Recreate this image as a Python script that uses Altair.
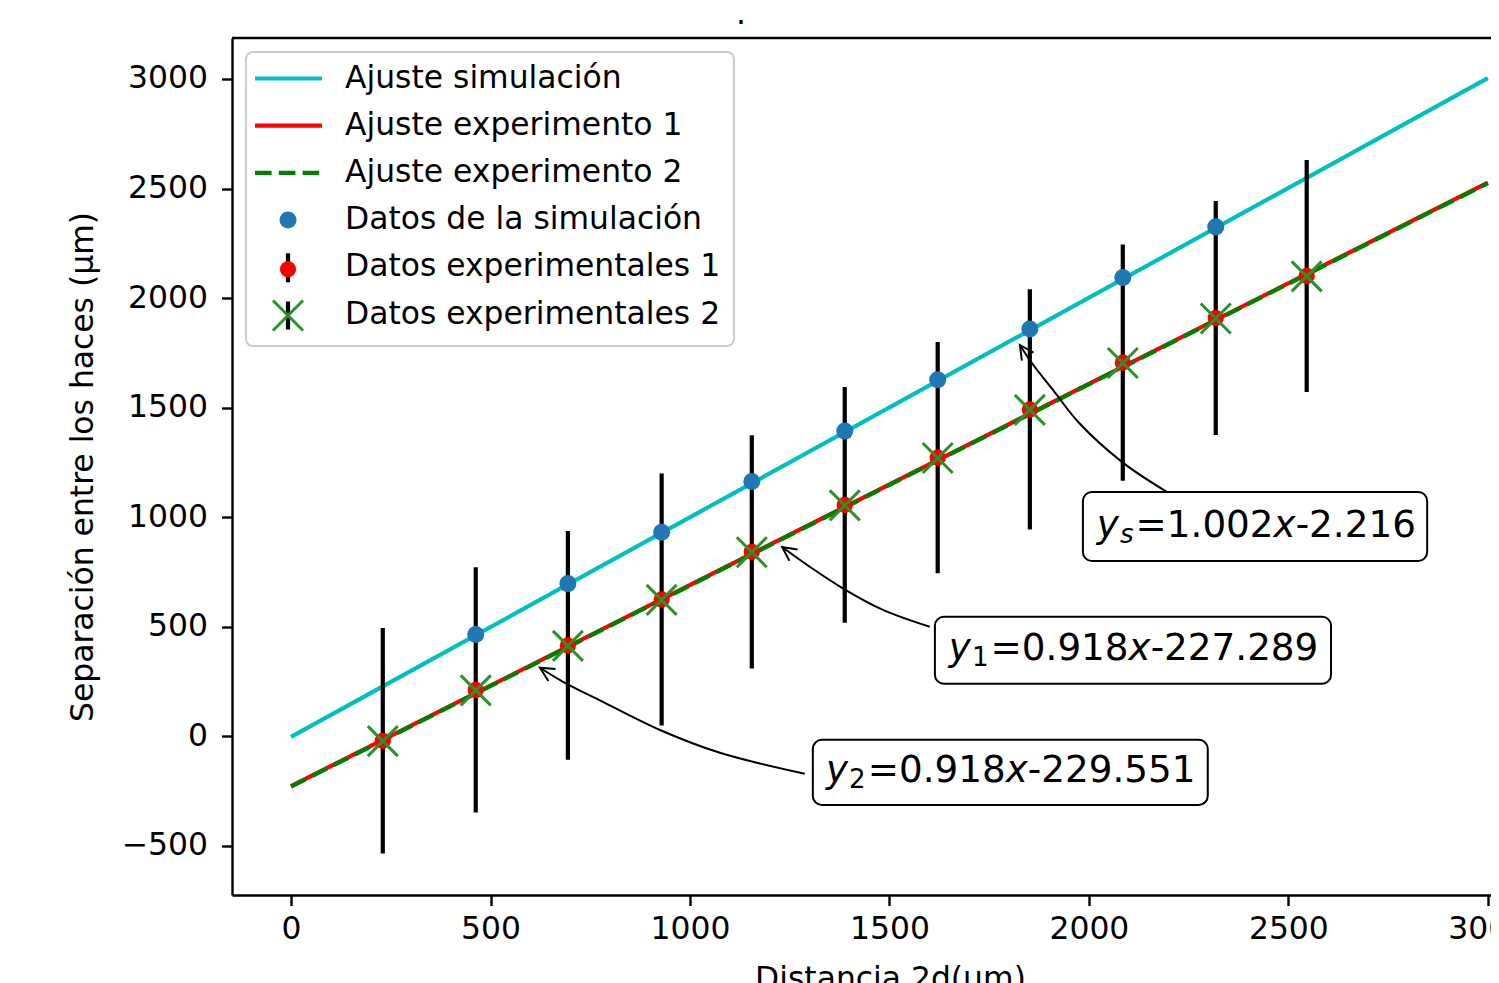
import altair as alt
import pandas as pd

# ---------------- values ----------------
x_exp = [230, 463, 694, 929, 1155, 1388, 1621, 1852, 2085, 2318, 2546]
y_exp1 = [-20, 212, 415, 625, 842, 1056, 1272, 1492, 1706, 1909, 2101]
y_exp2 = [-22, 210, 413, 623, 840, 1054, 1270, 1490, 1704, 1907, 2099]
err_exp = [515, 560, 522, 575, 532, 538, 528, 548, 539, 534, 529]

x_sim = [463, 694, 929, 1155, 1388, 1621, 1852, 2085, 2318]
y_sim = [465, 697, 931, 1163, 1393, 1627, 1859, 2094, 2325]

fit_x = [0, 3000]
fit_sim = [-2.2, 3003.8]
fit_exp1 = [-227.3, 2526.7]
fit_exp2 = [-229.6, 2524.5]

x_ticks = [0, 500, 1000, 1500, 2000, 2500, 3000]
y_ticks = [-500, 0, 500, 1000, 1500, 2000, 2500, 3000]

title_text = ["."]
legend_labels = ["Ajuste simulación", "Ajuste experimento 1", "Ajuste experimento 2",
                 "Datos de la simulación", "Datos experimentales 1", "Datos experimentales 2"]

# annotations (equation boxes, in data units)
ann_sub = ["s", "1", "2"]
ann_coef = ["=1.002", "=0.918", "=0.918"]
ann_const = ["-2.216", "-227.289", "-229.551"]
ann_text_x = [2020, 1649, 1341]
ann_text_y = [910, 349, -208]
ann_box_x1 = [1985, 1614, 1308]
ann_box_x2 = [2848, 2607, 2298]
ann_box_y1 = [800, 240, -313]
ann_box_y2 = [1115, 546, -16]
arrow_x = [[2196, 2086, 1975, 1910, 1857, 1827],
           [1601, 1484, 1381, 1301, 1231],
           [1288, 1075, 925, 782, 682, 624]]
arrow_y = [[1115, 1248, 1431, 1581, 1704, 1786],
           [500, 577, 678, 773, 864],
           [-171, -75, 29, 157, 249, 313]]
arrow_angle = [326, 305.5, 301]

# ---------------- layout ----------------
W, H = 1259, 857
X_DOM = [-148, 3008]
Y_DOM = [-724, 3187]
PX_X = W / (X_DOM[1] - X_DOM[0])
PX_Y = H / (Y_DOM[1] - Y_DOM[0])
FS = 31.4
FS_ANN = 37.3
FS_SUB = 26.1
LW = 4.2
FONT = "DejaVu Sans"

xsc = alt.Scale(domain=X_DOM, nice=False, zero=False)
ysc = alt.Scale(domain=Y_DOM, nice=False, zero=False)

x_axis = alt.Axis(values=x_ticks, format="d", grid=False, title="Distancia 2d(μm)",
                  labelFontSize=FS, labelColor="black", labelPadding=8, labelFlush=False,
                  labelOverlap=False, tickSize=10.5, tickWidth=2.4, tickColor="black",
                  domainColor="black", domainWidth=2.4, titleFontSize=FS,
                  titleFontWeight="normal", titleColor="black", titleX=658, titleY=93,
                  titleBaseline="alphabetic", titleAnchor="start", titleAlign="center")
y_axis = alt.Axis(values=y_ticks, format="d", grid=False,
                  title="Separación entre los haces (μm)",
                  labelFontSize=FS, labelColor="black", labelPadding=14,
                  labelOverlap=False, tickSize=10.5, tickWidth=2.4, tickColor="black",
                  domainColor="black", domainWidth=2.4, titleFontSize=FS,
                  titleFontWeight="normal", titleColor="black", titleX=-140, titleY=H / 2,
                  titleBaseline="alphabetic", titleAngle=270, titleAlign="center")

X = lambda f: alt.X(f, type="quantitative", scale=xsc, axis=x_axis)
Y = lambda f: alt.Y(f, type="quantitative", scale=ysc, axis=y_axis)

# ---------------- data frames ----------------
df_fit = pd.DataFrame({"x": fit_x, "ys": fit_sim, "y1": fit_exp1, "y2": fit_exp2})
df_exp = pd.DataFrame({"x": x_exp, "y1": y_exp1, "y2": y_exp2, "e": err_exp})
df_sim = pd.DataFrame({"x": x_sim, "y": y_sim})
df_one = pd.DataFrame({"t": title_text})

line_sim = alt.Chart(df_fit).mark_line(color="#00bfbf", strokeWidth=LW).encode(x=X("x"), y=Y("ys"))
line_e1 = alt.Chart(df_fit).mark_line(color="#ff0000", strokeWidth=LW).encode(x=X("x"), y=Y("y1"))
line_e2 = alt.Chart(df_fit).mark_line(color="#008000", strokeWidth=LW,
                                      strokeDash=[16.6, 7.2]).encode(x=X("x"), y=Y("y2"))

bars = alt.Chart(df_exp).transform_calculate(
    lo="datum.y1 - datum.e", hi="datum.y1 + datum.e"
).mark_rule(color="black", strokeWidth=LW).encode(x=X("x"), y=Y("lo"), y2="hi:Q")

red_pts = alt.Chart(df_exp).mark_point(filled=True, color="#ff0000", size=263, opacity=1,
                                       shape="circle").encode(x=X("x"), y=Y("y1"))
sim_pts = alt.Chart(df_sim).mark_point(filled=True, color="#1f77b4", size=290, opacity=1,
                                       shape="circle").encode(x=X("x"), y=Y("y"))
XPATH = "M -1 -1 L 1 1 M -1 1 L 1 -1"
x_pts = alt.Chart(df_exp).mark_point(shape=XPATH, filled=False, color="#2a922a", size=900,
                                     strokeWidth=3, opacity=1).encode(x=X("x"), y=Y("y2"))

# annotation boxes
df_box = pd.DataFrame({"x1": ann_box_x1, "x2": ann_box_x2, "y1": ann_box_y1, "y2": ann_box_y2})
boxes = alt.Chart(df_box).mark_rect(fill="white", stroke="black", strokeWidth=2,
                                    cornerRadius=9).encode(
    x=X("x1"), x2="x2:Q", y=Y("y1"), y2="y2:Q")

# arrows
arr_rows = []
for i in range(3):
    for j, (ax, ay) in enumerate(zip(arrow_x[i], arrow_y[i])):
        arr_rows.append({"a": i, "o": j, "x": ax, "y": ay})
df_arr = pd.DataFrame(arr_rows)
arrows = alt.Chart(df_arr).mark_line(color="black", strokeWidth=2,
                                     interpolate="catmull-rom").encode(
    x=X("x"), y=Y("y"), detail="a:N", order="o:Q")
df_head = pd.DataFrame({"x": [a[-1] for a in arrow_x], "y": [a[-1] for a in arrow_y],
                        "ang": arrow_angle})
heads = alt.Chart(df_head).mark_point(shape="M -0.5 1 L 0 0 L 0.5 1", filled=False,
                                      color="black", strokeWidth=2, size=784,
                                      opacity=1).encode(
    x=X("x"), y=Y("y"), angle=alt.Angle("ang:Q", scale=None))

# equation text pieces
CW = {"0": .636, "1": .636, "2": .636, "5": .636, "6": .636, "7": .636, "8": .636,
      "9": .636, ".": .318, "=": .838, "-": .361, "x": .592, "y": .592, "s": .521}
def width(s, fs):
    return sum(CW[c] for c in s) * fs

ital, norm = [], []
for i in range(3):
    x0, y0 = ann_text_x[i], ann_text_y[i]
    off = 0.0
    ital.append({"t": "y", "x": x0, "y": y0, "fs": FS_ANN})
    off += width("y", FS_ANN) + 1.0
    sub_piece = {"t": ann_sub[i], "x": x0 + off / PX_X, "y": y0 - 6 / PX_Y, "fs": FS_SUB}
    (ital if ann_sub[i] == "s" else norm).append(sub_piece)
    off += width(ann_sub[i], FS_SUB) + 2
    norm.append({"t": ann_coef[i], "x": x0 + off / PX_X, "y": y0, "fs": FS_ANN})
    off += width(ann_coef[i], FS_ANN)
    ital.append({"t": "x", "x": x0 + off / PX_X, "y": y0, "fs": FS_ANN})
    off += width("x", FS_ANN)
    norm.append({"t": ann_const[i], "x": x0 + off / PX_X, "y": y0, "fs": FS_ANN})

txt_it = alt.Chart(pd.DataFrame(ital)).mark_text(align="left", baseline="alphabetic",
                                                 font=FONT, fontStyle="italic",
                                                 color="black").encode(
    x=X("x"), y=Y("y"), text="t:N", size=alt.Size("fs:Q", scale=None))
txt_no = alt.Chart(pd.DataFrame(norm)).mark_text(align="left", baseline="alphabetic",
                                                 font=FONT, color="black").encode(
    x=X("x"), y=Y("y"), text="t:N", size=alt.Size("fs:Q", scale=None))

# top frame line and the '.' title above the axes
top_frame = alt.Chart(df_one).mark_rule(color="black", strokeWidth=2.4).encode(
    x=alt.value(0), x2=alt.value(W), y=alt.value(0))
title_mark = alt.Chart(df_one).mark_text(align="center", baseline="alphabetic", font=FONT,
                                         fontSize=FS, color="black").encode(
    x=alt.value(509), y=alt.value(-14), text="t:N")

# ---------------- legend ----------------
leg_box = alt.Chart(df_one).mark_rect(fill="white", fillOpacity=0.8, stroke="#cccccc",
                                      strokeWidth=2, cornerRadius=7).encode(
    x=alt.value(14), x2=alt.value(502), y=alt.value(14), y2=alt.value(308))
ROW0, DROW = 40.5, 47.2
def leg_line(row, color, dash=None):
    kw = dict(color=color, strokeWidth=LW)
    if dash:
        kw["strokeDash"] = dash
    return alt.Chart(df_one).mark_rule(**kw).encode(
        x=alt.value(23), x2=alt.value(90), y=alt.value(ROW0 + DROW * row))
leg_l1 = leg_line(0, "#00bfbf")
leg_l2 = leg_line(1, "#ff0000")
leg_l3 = leg_line(2, "#008000", [16.6, 7.2])
leg_blue = alt.Chart(df_one).mark_point(filled=True, color="#1f77b4", size=290, opacity=1,
                                        shape="circle").encode(
    x=alt.value(56), y=alt.value(ROW0 + DROW * 3))
leg_bar1 = alt.Chart(df_one).mark_rule(color="black", strokeWidth=LW).encode(
    x=alt.value(56), y=alt.value(ROW0 + DROW * 4 - 14), y2=alt.value(ROW0 + DROW * 4 + 15))
leg_red = alt.Chart(df_one).mark_point(filled=True, color="#ff0000", size=263, opacity=1,
                                       shape="circle").encode(
    x=alt.value(56), y=alt.value(ROW0 + DROW * 4 + 2))
leg_bar2 = alt.Chart(df_one).mark_rule(color="black", strokeWidth=LW).encode(
    x=alt.value(56), y=alt.value(ROW0 + DROW * 5 - 13), y2=alt.value(ROW0 + DROW * 5 + 15))
leg_x = alt.Chart(df_one).mark_point(shape=XPATH, filled=False, color="#2a922a", size=900,
                                     strokeWidth=3, opacity=1).encode(
    x=alt.value(56), y=alt.value(ROW0 + DROW * 5 + 1))
df_leg = pd.DataFrame({"label": legend_labels, "row": list(range(len(legend_labels)))})
leg_txt = alt.Chart(df_leg).transform_calculate(
    px="113", py=f"{ROW0} + {DROW} * datum.row"
).mark_text(align="left", baseline="middle", font=FONT, fontSize=FS, color="black").encode(
    x=alt.X("px:Q", scale=None, axis=None), y=alt.Y("py:Q", scale=None, axis=None),
    text="label:N")

chart = alt.layer(
    line_sim, line_e1, line_e2, bars, red_pts, sim_pts, x_pts,
    arrows, heads, boxes, txt_it, txt_no, top_frame, title_mark,
    leg_box, leg_l1, leg_l2, leg_l3, leg_blue, leg_bar1, leg_red, leg_bar2, leg_x, leg_txt,
).properties(
    width=W, height=H,
    autosize=alt.AutoSizeParams(type="none"),
    padding={"left": 224, "top": 30, "right": 0, "bottom": 88},
).configure_view(stroke=None).configure(font=FONT)

chart.save("out.html", embed_options={"renderer": "svg", "actions": False})
